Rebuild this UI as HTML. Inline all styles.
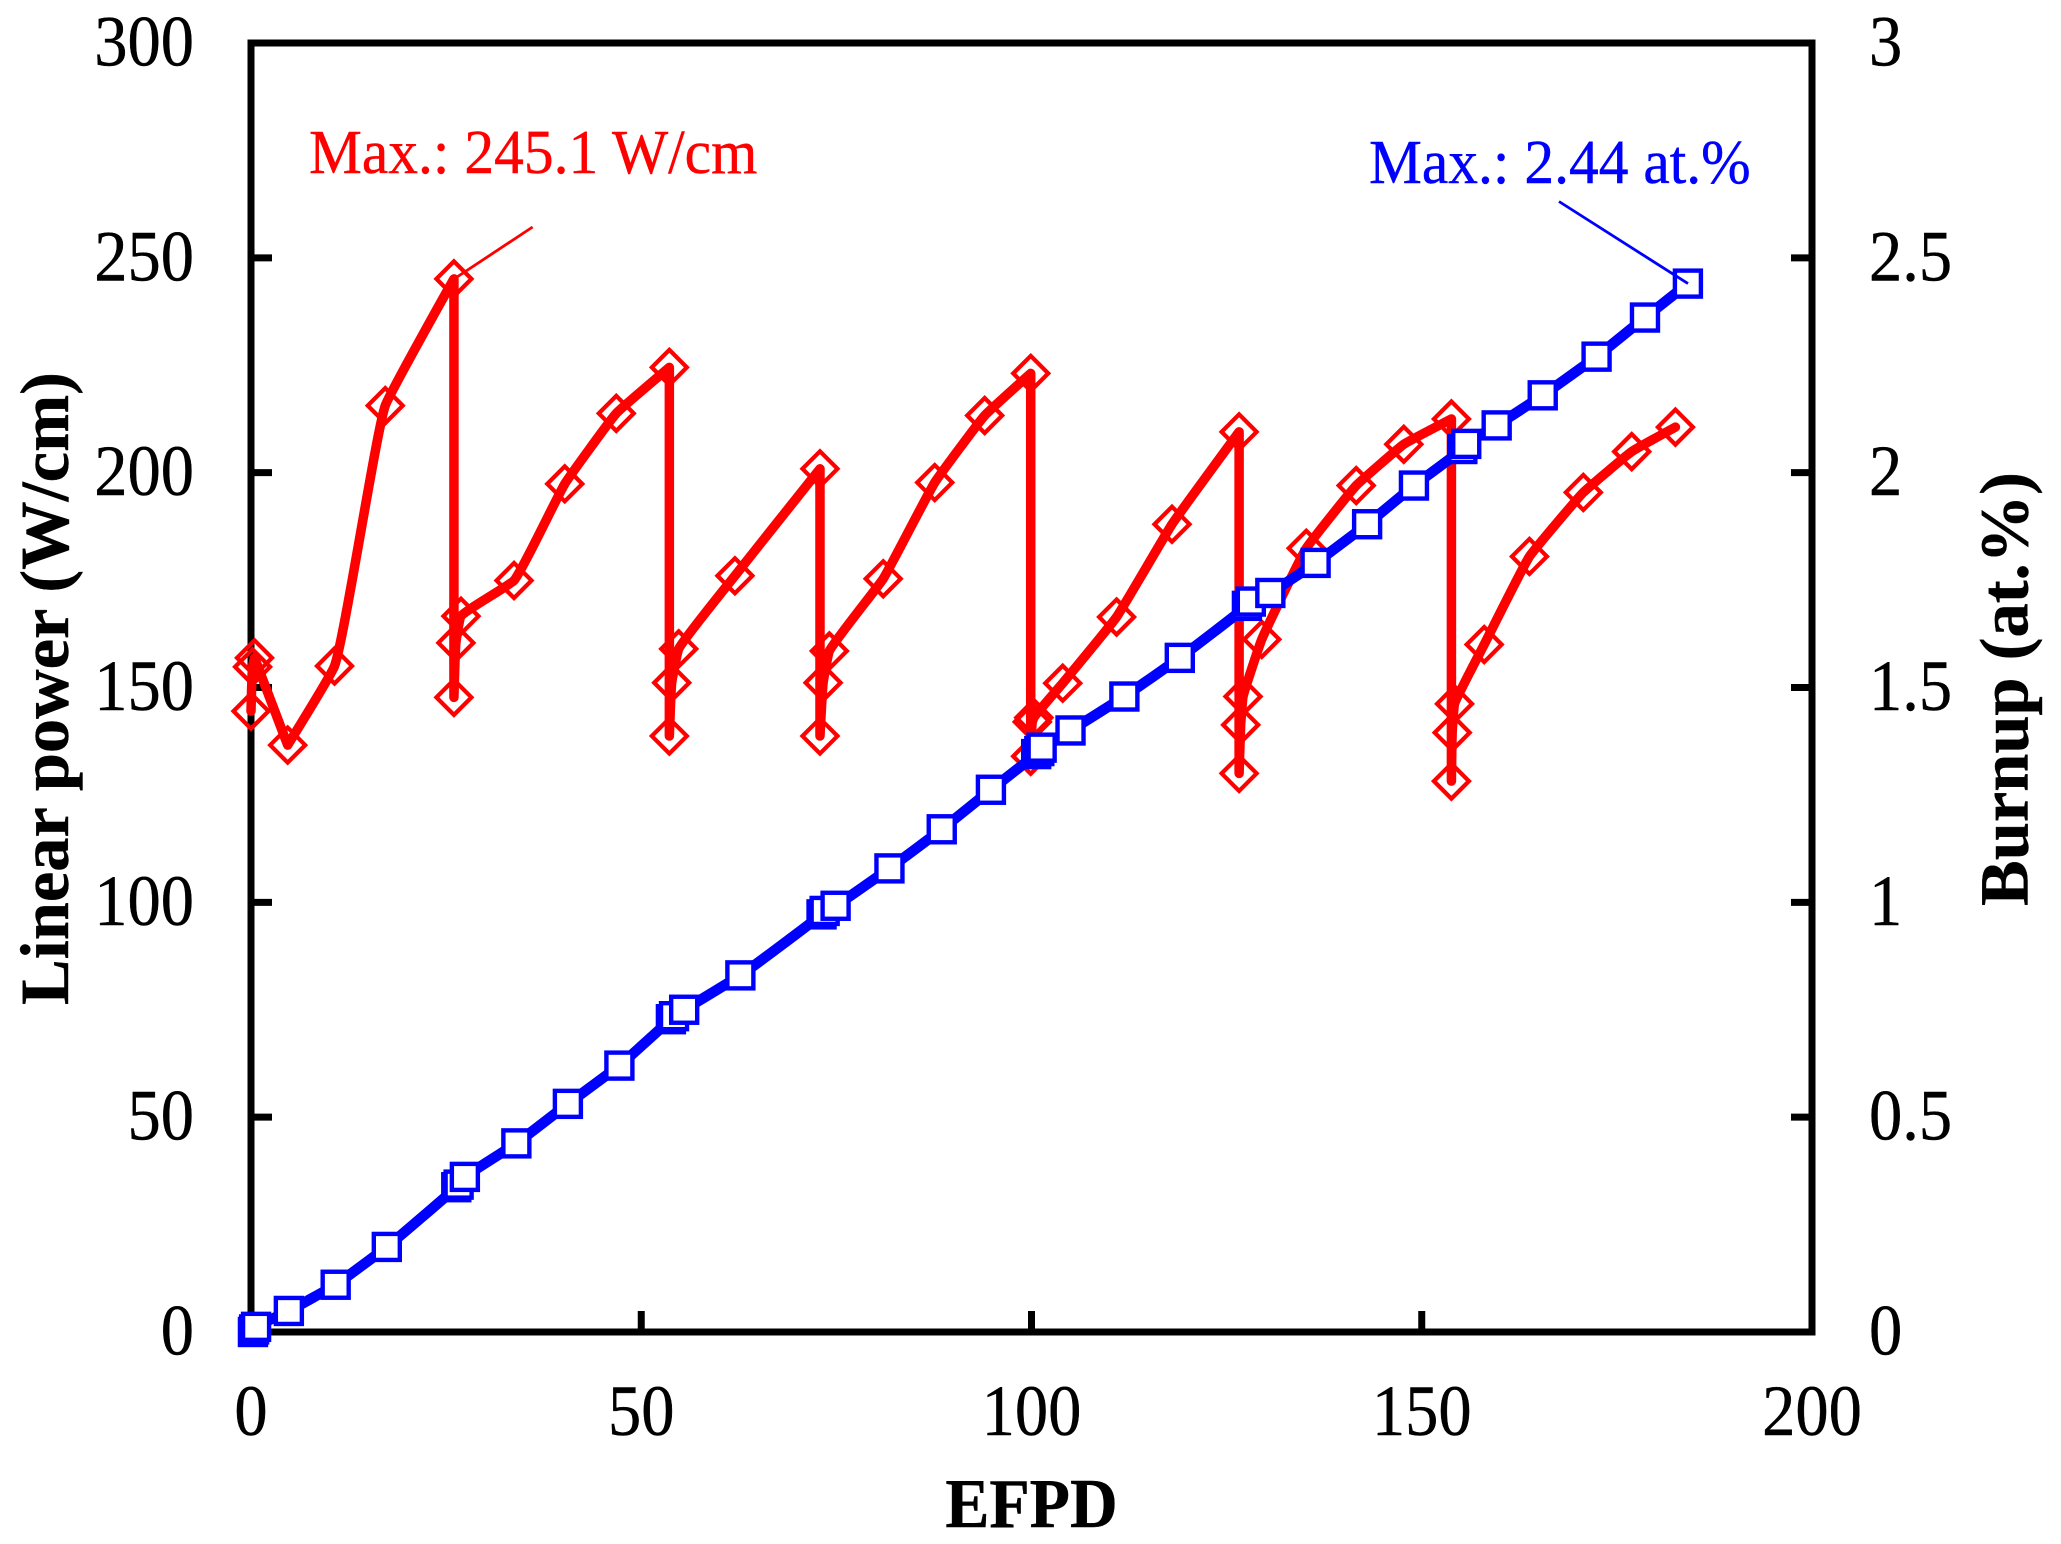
<!DOCTYPE html>
<html lang="en">
<head>
<meta charset="utf-8">
<title>Linear power and burnup vs EFPD</title>
<style>
html,body{margin:0;padding:0;background:#fff;}
svg{display:block;}
text{font-family:"Liberation Serif",serif;stroke-width:0.4;paint-order:stroke;}
</style>
</head>
<body>
<svg id="chart" xmlns="http://www.w3.org/2000/svg" width="2061" height="1544" viewBox="0 0 2061 1544">
  <rect x="0" y="0" width="2061" height="1544" fill="#fff"/>
  <g id="power-layer"></g>
  <g id="burnup-layer"></g>
  <g id="axis-layer"></g>
  <g id="label-layer"></g>
  <text transform="translate(68,688.5) rotate(-90)" text-anchor="middle" font-size="68.5" font-weight="bold" fill="#000" stroke="#000">Linear power (W/cm)</text>
  <text transform="translate(2027.5,689) rotate(-90)" text-anchor="middle" font-size="68.5" font-weight="bold" fill="#000" stroke="#000">Burnup (at.%)</text>
  <text transform="translate(1031.5,1527) scale(1,1.06)" text-anchor="middle" font-size="66" font-weight="bold" fill="#000" stroke="#000">EFPD</text>
  <text transform="translate(309,173) scale(1,1.05)" font-size="59.5" fill="#ff0000" stroke="#ff0000">Max.: 245.1 W/cm</text>
  <text transform="translate(1369,183) scale(1,1.05)" font-size="59.5" fill="#0000ff" stroke="#0000ff">Max.: 2.44 at.%</text>
  <line x1="454" y1="279" x2="532.6" y2="227" stroke="#ff0000" stroke-width="2.8"/>
  <line x1="1559" y1="201.5" x2="1688" y2="283.6" stroke="#0000ff" stroke-width="2.8"/>
</svg>
<script>
var powerDays = [0,0.2,0.45,4.7,10.7,17.2,26,26,26.25,26.9,33.7,40.2,46.8,53.6,53.6,53.9,54.8,62,72.9,72.9,73.3,74.1,81,87.6,94,99.9,99.9,100.1,100.3,104,110.9,118,126.6,126.6,126.8,127.1,129.5,135.2,141.6,147.7,153.8,153.8,153.9,154.2,158,163.8,170.7,176.9,182.5];
var powerValues = [144.5,154.8,156.9,136.6,155,215.6,245.1,147.7,160.4,166.6,174.9,197.4,213.8,224.5,138.7,151.1,159,176,200.9,138.7,151.1,158.5,175.3,197.7,213.3,223.1,134,142,143,151,166.4,188,209.5,130,141.3,147.9,161.2,182.4,197,206.6,212.5,128.2,139.5,146.2,160,180.5,195.4,204.9,210.6];
var burnupDays = [0.25,0.4,0.65,4.85,10.85,17.4,26.3,26.6,27.4,34,40.6,47.2,53.8,54.2,55.5,62.7,73.1,73.5,74.9,81.8,88.5,94.8,100.6,101,101.3,105,111.9,119,127.6,128.1,130.6,136.4,143,149,155.2,155.7,159.6,165.5,172.4,178.6,184.1];
var burnupValues = [0,0.006,0.012,0.049,0.11,0.198,0.337,0.343,0.361,0.439,0.531,0.62,0.728,0.735,0.75,0.83,0.972,0.98,0.992,1.079,1.17,1.262,1.345,1.352,1.36,1.4,1.479,1.569,1.69,1.7,1.72,1.79,1.88,1.97,2.055,2.067,2.11,2.18,2.27,2.361,2.44];
var xTicks = [0,50,100,150,200];
var powerTicks = [0,50,100,150,200,250,300];
var burnupTicks = ["0","0.5","1","1.5","2","2.5","3"];

var NS = "http://www.w3.org/2000/svg";
var plotLeft = 251, plotRight = 1812, plotTop = 43, plotBottom = 1332;
var labelSize = 66.5, labelStretch = 1.08;
function xScale(d){ return plotLeft + d / 200 * (plotRight - plotLeft); }
function yPower(v){ return plotBottom - v / 300 * (plotBottom - plotTop); }
function yBurnup(v){ return plotBottom - v / 3 * (plotBottom - plotTop); }
function make(tag, attrs, parent){
  var el = document.createElementNS(NS, tag);
  for (var k in attrs) { el.setAttribute(k, attrs[k]); }
  parent.appendChild(el);
  return el;
}
function labelAttrs(x, y, anchor){
  return {transform: "translate(" + x + "," + y + ") scale(1," + labelStretch + ")", "text-anchor": anchor, "font-size": labelSize, fill: "#000", stroke: "#000"};
}
function smoothPath(pts){
  var tangents = pts.map(function(p, i){
    if (i === 0 || i === pts.length - 1) return [0, 0];
    var a = pts[i - 1], b = pts[i + 1];
    var ux = p[0] - a[0], uy = p[1] - a[1], vx = b[0] - p[0], vy = b[1] - p[1];
    var lu = Math.hypot(ux, uy) || 1, lv = Math.hypot(vx, vy) || 1;
    if ((ux * vx + uy * vy) / (lu * lv) < 0.3) return [0, 0];
    var dx = ux / lu + vx / lv, dy = uy / lu + vy / lv, l = Math.hypot(dx, dy) || 1;
    return [dx / l, dy / l];
  });
  var d = "M" + pts[0][0].toFixed(2) + " " + pts[0][1].toFixed(2);
  for (var i = 0; i < pts.length - 1; i++) {
    var p = pts[i], q = pts[i + 1];
    var len = Math.hypot(q[0] - p[0], q[1] - p[1]) * 0.1;
    d += "C" + (p[0] + tangents[i][0] * len).toFixed(2) + " " + (p[1] + tangents[i][1] * len).toFixed(2) +
         " " + (q[0] - tangents[i + 1][0] * len).toFixed(2) + " " + (q[1] - tangents[i + 1][1] * len).toFixed(2) +
         " " + q[0].toFixed(2) + " " + q[1].toFixed(2);
  }
  return d;
}

var powerLayer = document.getElementById("power-layer");
var burnupLayer = document.getElementById("burnup-layer");
var axisLayer = document.getElementById("axis-layer");
var labelLayer = document.getElementById("label-layer");

var powerPts = powerDays.map(function(d, i){ return [xScale(d), yPower(powerValues[i])]; });
var burnupPts = burnupDays.map(function(d, i){ return [xScale(d), yBurnup(burnupValues[i])]; });

var frame = make("rect", {x: plotLeft, y: plotTop, width: plotRight - plotLeft, height: plotBottom - plotTop, fill: "none", stroke: "#000", "stroke-width": 7}, axisLayer);


axisLayer.parentNode.insertBefore(axisLayer, powerLayer);

powerPts.forEach(function(p){
  var h = 17.5;
  var diamond = make("polygon", {points: p[0] + "," + (p[1] - h) + " " + (p[0] + h) + "," + p[1] + " " + p[0] + "," + (p[1] + h) + " " + (p[0] - h) + "," + p[1], fill: "none", stroke: "#ff0000", "stroke-width": 4.2}, powerLayer);
  
  
});
var powerLine = make("path", {d: smoothPath(powerPts), fill: "none", stroke: "#ff0000", "stroke-width": 9.5, "stroke-linecap": "round", "stroke-linejoin": "round"}, powerLayer);



var burnupLine = make("path", {d: smoothPath(burnupPts), fill: "none", stroke: "#0000ff", "stroke-width": 10.5, "stroke-linecap": "round", "stroke-linejoin": "round"}, burnupLayer);


burnupPts.forEach(function(p){
  var h = 13;
  var square = make("rect", {x: p[0] - h, y: p[1] - h, width: 2 * h, height: 2 * h, fill: "#fff", stroke: "#0000ff", "stroke-width": 4.4}, burnupLayer);
  
  
});

xTicks.forEach(function(t){
  var x = xScale(t);
  if (t > 0 && t < 200) {
    var tick = make("line", {x1: x, x2: x, y1: plotBottom, y2: plotBottom - 21, stroke: "#000", "stroke-width": 7}, axisLayer);
    
    
  }
  var label = make("text", labelAttrs(x, 1435, "middle"), labelLayer);
  
  
  label.textContent = String(t);
});
powerTicks.forEach(function(t){
  var y = yPower(t);
  if (t > 0 && t < 300) {
    var tick = make("line", {x1: plotLeft, x2: plotLeft + 21, y1: y, y2: y, stroke: "#000", "stroke-width": 7}, axisLayer);
    
    
  }
  var label = make("text", labelAttrs(194, y + 22.5, "end"), labelLayer);
  
  
  label.textContent = String(t);
});
burnupTicks.forEach(function(t){
  var v = parseFloat(t);
  var y = yBurnup(v);
  if (v > 0 && v < 3) {
    var tick = make("line", {x1: plotRight, x2: plotRight - 21, y1: y, y2: y, stroke: "#000", "stroke-width": 7}, axisLayer);
    
    
  }
  var label = make("text", labelAttrs(1869, y + 22.5, "start"), labelLayer);
  
  
  label.textContent = t;
});
</script>
</body>
</html>
